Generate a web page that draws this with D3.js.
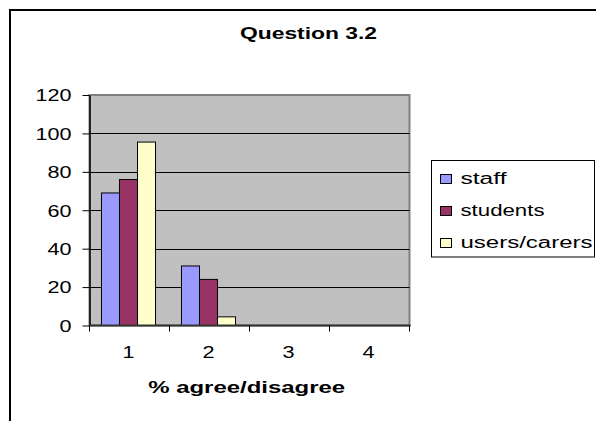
<!DOCTYPE html>
<html>
<head>
<meta charset="utf-8">
<script src="https://cdn.jsdelivr.net/npm/d3@7"></script>
<style>
  html, body { margin: 0; padding: 0; background: #fff; }
  svg { display: block; }
  text { font-family: "Liberation Sans", Arial, sans-serif; fill: #000; }
</style>
</head>
<body>
<svg id="chart" width="596" height="421"></svg>
<script>
// Responses per category, in percent
const categories = ["1", "2", "3", "4"];
const seriesNames = ["staff", "students", "users/carers"];
const staff = [69, 31, 0, 0];
const students = [76, 24, 0, 0];
const usersCarers = [95.5, 4.5, 0, 0];
const yTicks = [0, 20, 40, 60, 80, 100, 120];
const seriesColors = ["#9999FF", "#993366", "#FFFFCC"];

const seriesValues = [staff, students, usersCarers];
const rows = categories.map((c, i) => ({
  category: c,
  values: seriesNames.map((s, k) => ({ series: s, value: seriesValues[k][i] }))
}));

const svg = d3.select("#chart");

// stretch text horizontally to the wide glyph look of the chart
function widen(sel, factor) {
  sel.each(function () {
    const w = this.getComputedTextLength();
    d3.select(this).attr("textLength", w * factor).attr("lengthAdjust", "spacingAndGlyphs");
  });
}

// outer chart frame (continues past the page edge)
svg.append("rect")
  .attr("x", 10).attr("y", 10).attr("width", 700).attr("height", 600)
  .attr("fill", "none").attr("stroke", "#000").attr("stroke-width", 2);

const plot = { left: 89.5, right: 409.5, top: 95, bottom: 325.5 };

const x0 = d3.scaleBand().domain(categories).range([plot.left, plot.right]).padding(0);
const x1 = d3.scaleBand().domain(seriesNames).range([-1, x0.bandwidth() - 1])
  .paddingInner(0).paddingOuter(0.72);
const y = d3.scaleLinear().domain([0, 120]).range([plot.bottom, plot.top]);

// plot background
svg.append("rect")
  .attr("x", plot.left).attr("y", plot.top)
  .attr("width", plot.right - plot.left).attr("height", plot.bottom - plot.top)
  .attr("fill", "#C0C0C0").attr("stroke", "#808080").attr("stroke-width", 2);

// horizontal gridlines
svg.append("g")
  .selectAll("line")
  .data(yTicks.filter(t => t > 0 && t < 120))
  .join("line")
  .attr("x1", plot.left).attr("x2", plot.right)
  .attr("y1", d => Math.round(y(d)) + 0.5).attr("y2", d => Math.round(y(d)) + 0.5)
  .attr("stroke", "#000").attr("stroke-width", 1);

// bars
svg.append("g")
  .selectAll("g")
  .data(rows)
  .join("g")
  .attr("transform", d => `translate(${x0(d.category)},0)`)
  .selectAll("rect")
  .data(d => d.values.filter(v => v.value > 0))
  .join("rect")
  .attr("x", d => x1(d.series))
  .attr("y", d => y(d.value))
  .attr("width", x1.bandwidth())
  .attr("height", d => y(0) - y(d.value))
  .attr("fill", (d, i) => seriesColors[seriesNames.indexOf(d.series)])
  .attr("stroke", "#000").attr("stroke-width", 1);

// y axis
const yAxis = svg.append("g")
  .attr("transform", `translate(${plot.left},0)`)
  .call(d3.axisLeft(y).tickValues(yTicks).tickSize(7).tickPadding(11).tickSizeOuter(0));
yAxis.select(".domain").attr("stroke", "#000").attr("stroke-width", 1.5);
yAxis.selectAll(".tick line").attr("stroke", "#000");
yAxis.selectAll(".tick text")
  .attr("font-size", 16).attr("dy", "0.36em")
  .call(widen, 1.35);

// x axis baseline with boundary ticks
svg.append("line")
  .attr("x1", plot.left).attr("x2", plot.right + 1)
  .attr("y1", plot.bottom).attr("y2", plot.bottom)
  .attr("stroke", "#333").attr("stroke-width", 2);
const bounds = categories.map(c => x0(c)).concat([plot.right]);
svg.append("g")
  .selectAll("line")
  .data(bounds)
  .join("line")
  .attr("x1", d => d).attr("x2", d => d)
  .attr("y1", plot.bottom).attr("y2", plot.bottom + 6)
  .attr("stroke", "#000").attr("stroke-width", 1);

// category labels
svg.append("g")
  .selectAll("text")
  .data(categories)
  .join("text")
  .attr("x", d => x0(d) + x0.bandwidth() / 2 - 1)
  .attr("y", 357.5)
  .attr("text-anchor", "middle")
  .attr("font-size", 16)
  .text(d => d)
  .call(widen, 1.35);

// title
svg.append("text")
  .attr("x", 308.5).attr("y", 38.5)
  .attr("text-anchor", "middle")
  .attr("font-size", 16).attr("font-weight", "bold")
  .attr("textLength", 137).attr("lengthAdjust", "spacingAndGlyphs")
  .text("Question 3.2");

// x axis title
svg.append("text")
  .attr("x", 246.7).attr("y", 392.5)
  .attr("text-anchor", "middle")
  .attr("font-size", 16).attr("font-weight", "bold")
  .attr("textLength", 197).attr("lengthAdjust", "spacingAndGlyphs")
  .text("% agree/disagree");

// legend
const legend = svg.append("g");
legend.append("rect")
  .attr("x", 431.5).attr("y", 160.5).attr("width", 163).attr("height", 96.5)
  .attr("fill", "#fff").attr("stroke", "#000").attr("stroke-width", 1);
const legendWidths = [46, 84, 132];
const item = legend.selectAll("g.item")
  .data(seriesNames)
  .join("g")
  .attr("class", "item")
  .attr("transform", (d, i) => `translate(0,${i * 32})`);
item.append("rect")
  .attr("x", 440.5).attr("y", 174.5).attr("width", 11).attr("height", 9)
  .attr("fill", (d, i) => seriesColors[i]).attr("stroke", "#000").attr("stroke-width", 1);
item.append("text")
  .attr("x", 460.5).attr("y", 183.5)
  .attr("font-size", 16)
  .attr("textLength", (d, i) => legendWidths[i]).attr("lengthAdjust", "spacingAndGlyphs")
  .text(d => d);
</script>
</body>
</html>
